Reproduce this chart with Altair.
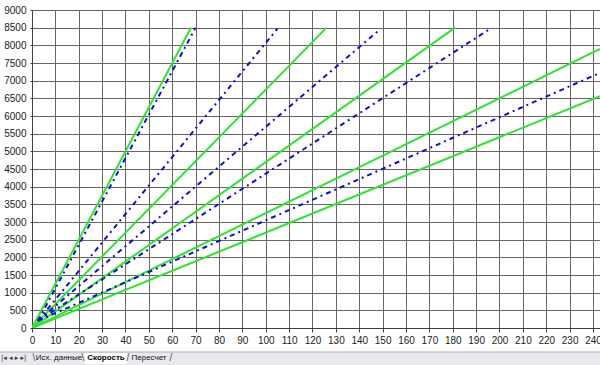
import altair as alt
import pandas as pd

# Green solid lines (start point, end point)
green_names = ["G1", "G2", "G3", "G4", "G5"]
green_x0 = [0, 0, 0, 0, 0]
green_y0 = [0, 0, 0, 0, 0]
green_x1 = [68, 126, 181, 243, 243]
green_y1 = [8500, 8500, 8500, 7900, 6560]

# Blue dash-dot lines (start point, end point)
blue_names = ["B1", "B2", "B3", "B4", "B5"]
blue_x0 = [2.5, 2.5, 2.5, 2.5, 2.5]
blue_y0 = [200, 200, 200, 200, 200]
blue_x1 = [70, 105, 148, 196, 243]
blue_y1 = [8500, 8470, 8400, 8470, 7220]

x_ticks = list(range(0, 250, 10))
y_ticks = list(range(0, 9500, 500))

tab_labels = ["Исх. данные", "Скорость", "Пересчет"]
tab_x = [27, 74, 117]
tab_bold = [False, True, False]
sep_labels = ["\\", "\\", "/", "/"]
sep_x = [2, 51, 96, 139]

rows = []
for n, a, b, c, d in zip(green_names, green_x0, green_y0, green_x1, green_y1):
    rows.append({"s": n, "x": a, "y": b, "o": 0})
    rows.append({"s": n, "x": c, "y": d, "o": 1})
green_df = pd.DataFrame(rows)
rows = []
for n, a, b, c, d in zip(blue_names, blue_x0, blue_y0, blue_x1, blue_y1):
    rows.append({"s": n, "x": a, "y": b, "o": 0})
    rows.append({"s": n, "x": c, "y": d, "o": 1})
blue_df = pd.DataFrame(rows)

W, H = 568, 318
xs = alt.Scale(domain=[0, 243], nice=False, zero=False)
ys = alt.Scale(domain=[0, 9000], nice=False)

xaxis = alt.Axis(values=x_ticks, format="d", title=None, grid=True, gridColor="#666666",
                 gridOpacity=1, tickColor="#404040", tickSize=4, labelPadding=3,
                 domainColor="#404040", labelFont="Liberation Sans", labelFontSize=10,
                 labelColor="#222222", labelFlush=False, labelOverlap=False)
yaxis = alt.Axis(values=y_ticks, format="d", title=None, grid=True, gridColor="#666666",
                 gridOpacity=1, tickColor="#404040", tickSize=2, labelPadding=4,
                 domainColor="#404040", labelFont="Liberation Sans", labelFontSize=10,
                 labelColor="#222222", labelFlush=False, labelOverlap=False)

green = alt.Chart(green_df).mark_line(color="#33e033", strokeWidth=2, clip=True).encode(
    x=alt.X("x:Q", scale=xs, axis=xaxis), y=alt.Y("y:Q", scale=ys, axis=yaxis),
    detail="s:N", order="o:Q")

blue = alt.Chart(blue_df).mark_line(color="#1010c8", strokeWidth=2, strokeDash=[5, 4, 2, 4],
                                     clip=True).encode(
    x=alt.X("x:Q", scale=xs, axis=xaxis), y=alt.Y("y:Q", scale=ys, axis=yaxis),
    detail="s:N", order="o:Q")

# sheet tab bar below the chart
one = pd.DataFrame({"a": [0]})
bar = alt.Chart(one).mark_rect(color="#e8e8ee", stroke="#b0b0b0", strokeWidth=1).encode(
    x=alt.value(-33), x2=alt.value(W + 2), y=alt.value(342), y2=alt.value(360))
active = alt.Chart(one).mark_rect(color="#ffffff").encode(
    x=alt.value(53), x2=alt.value(95), y=alt.value(343), y2=alt.value(354))
nav = alt.Chart(pd.DataFrame({"t": ["|◂ ◂ ▸ ▸|"]})).mark_text(
    font="DejaVu Sans", fontSize=7, color="#333333", align="left", baseline="middle").encode(
    x=alt.value(-31), y=alt.value(348), text="t:N")
tabs_df = pd.DataFrame({"t": tab_labels, "px": tab_x, "b": tab_bold})
tabs_n = alt.Chart(tabs_df).transform_filter("!datum.b").mark_text(
    font="Liberation Sans", fontSize=8, color="#111111", align="center",
    baseline="middle").encode(x=alt.X("px:Q", scale=None), y=alt.value(348), text="t:N")
tabs_b = alt.Chart(tabs_df).transform_filter("datum.b").mark_text(
    font="Liberation Sans", fontSize=8, fontWeight="bold", color="#000000",
    align="center", baseline="middle").encode(
    x=alt.X("px:Q", scale=None), y=alt.value(348), text="t:N")
seps = alt.Chart(pd.DataFrame({"t": sep_labels, "px": sep_x})).mark_text(
    font="Liberation Sans", fontSize=10, color="#555555", align="center",
    baseline="middle").encode(x=alt.X("px:Q", scale=None), y=alt.value(348), text="t:N")

chart = alt.layer(green, blue, bar, active, nav, tabs_n, tabs_b, seps).properties(
    width=W, height=H,
    padding={"left": 32, "top": 10, "right": 0, "bottom": 37},
    autosize=alt.AutoSizeParams(type="none"),
    background="white",
).configure_view(stroke=None)

chart.save("out.html", embed_options={"renderer": "svg", "actions": False})
